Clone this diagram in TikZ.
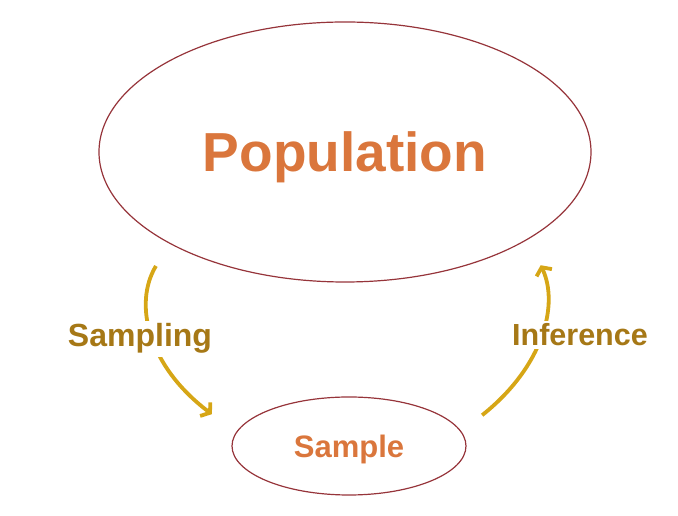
\documentclass[tikz,border=0pt]{standalone}
\usepackage{fontspec}
\setmainfont{Liberation Sans}
\usetikzlibrary{shapes.geometric,arrows.meta}
\definecolor{rimred}{RGB}{150,52,58}
\definecolor{titleorange}{RGB}{218,118,60}
\definecolor{labelgold}{RGB}{166,120,22}
\definecolor{arrowgold}{RGB}{214,166,22}
\begin{document}
\begin{tikzpicture}[x=1pt,y=1pt,
  blob/.style={ellipse,draw=rimred,line width=1.2pt,inner sep=0pt,text=titleorange,font=\bfseries,text depth=0pt},
  flow/.style={draw=arrowgold,line width=3.8pt,-{Straight Barb[length=6pt,width=17pt]}},
  steplabel/.style={fill=white,inner sep=3pt,text=labelgold,font=\bfseries\fontsize{32}{36}\selectfont,anchor=base}]
\useasboundingbox (0,0) rectangle (678,516);
% the two sets
\node[blob,minimum width=492,minimum height=260,font=\bfseries\fontsize{55}{60}\selectfont] (pop) at (345,364) {Population};
\node[blob,minimum width=234,minimum height=98,font=\bfseries\fontsize{31}{36}\selectfont] (sample) at (349,70) {Sample};
% going down and coming back up
\draw[flow] ([shift={(-26,-16)}]pop.211) .. controls (133,212) and (148,150) .. ([shift={(-34,8)}]sample.167);
\draw[flow] ([shift={(30,7)}]sample.13) .. controls (544,150) and (559,212) .. ([shift={(29,-17)}]pop.330);
% labels sit over the arrows
\node[steplabel] (down) at (140,169) {Sampling};
\node[steplabel,font=\bfseries\fontsize{30.5}{36}\selectfont] (up) at (580,170) {Inference};
\end{tikzpicture}
\end{document}
